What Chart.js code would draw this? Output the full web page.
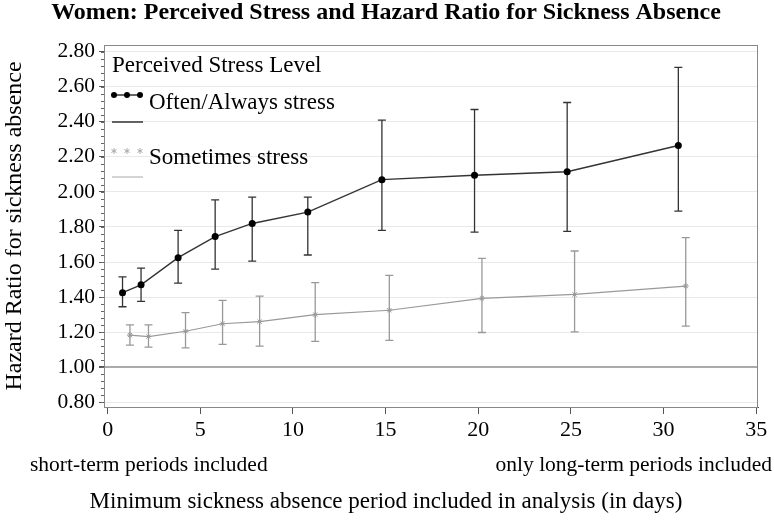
<!DOCTYPE html>
<html>
<head>
<meta charset="utf-8">
<script src="https://cdn.jsdelivr.net/npm/chart.js@4/dist/chart.umd.min.js"></script>
<style>
  html, body { margin: 0; padding: 0; background: #fff; }
  #wrap { width: 774px; height: 523px; }
</style>
</head>
<body>
<div id="wrap"><canvas id="hrChart" width="774" height="523"></canvas></div>
<script>
// values
const xOften = [0.8, 1.8, 3.8, 5.8, 7.8, 10.8, 14.8, 19.8, 24.8, 30.8];
const hrOften = [1.425, 1.47, 1.625, 1.745, 1.82, 1.885, 2.07, 2.095, 2.115, 2.265];
const loOften = [1.345, 1.375, 1.48, 1.56, 1.605, 1.64, 1.78, 1.77, 1.775, 1.89];
const hiOften = [1.515, 1.565, 1.78, 1.955, 1.97, 1.97, 2.41, 2.47, 2.51, 2.71];

const xSome = [1.2, 2.2, 4.2, 6.2, 8.2, 11.2, 15.2, 20.2, 25.2, 31.2];
const hrSome = [1.183, 1.175, 1.205, 1.248, 1.26, 1.3, 1.325, 1.393, 1.415, 1.463];
const loSome = [1.126, 1.114, 1.11, 1.13, 1.12, 1.147, 1.153, 1.198, 1.202, 1.234];
const hiSome = [1.242, 1.242, 1.311, 1.381, 1.406, 1.482, 1.524, 1.621, 1.663, 1.739];

const xTicks = [0, 5, 10, 15, 20, 25, 30, 35];
const yTicks = [0.8, 1.0, 1.2, 1.4, 1.6, 1.8, 2.0, 2.2, 2.4, 2.6, 2.8];

const SERIF = "'Liberation Serif', 'DejaVu Serif', serif";
const DARK = "#333333";
const GREY = "#999999";

function toPoints(xs, ys) {
  return xs.map((x, i) => ({ x: x, y: ys[i] }));
}

// error bars, frame, minor ticks, legend and notes
const extrasPlugin = {
  id: "extras",
  beforeDatasetsDraw(chart) {
    const ctx = chart.ctx;
    const xs = chart.scales.x;
    const ys = chart.scales.y;
    const bars = [
      [xOften, loOften, hiOften, DARK],
      [xSome, loSome, hiSome, GREY],
    ];
    ctx.save();
    ctx.lineWidth = 1.3;
    bars.forEach(([xv, lo, hi, col]) => {
      ctx.strokeStyle = col;
      xv.forEach((x, i) => {
        const px = xs.getPixelForValue(x);
        const p1 = ys.getPixelForValue(lo[i]);
        const p2 = ys.getPixelForValue(hi[i]);
        ctx.beginPath();
        ctx.moveTo(px, p1);
        ctx.lineTo(px, p2);
        ctx.moveTo(px - 4, p1);
        ctx.lineTo(px + 4, p1);
        ctx.moveTo(px - 4, p2);
        ctx.lineTo(px + 4, p2);
        ctx.stroke();
      });
    });
    ctx.restore();
  },
  afterDraw(chart) {
    const ctx = chart.ctx;
    const a = chart.chartArea;
    const ys = chart.scales.y;
    ctx.save();
    // frame
    ctx.strokeStyle = "#888888";
    ctx.lineWidth = 1;
    ctx.strokeRect(a.left + 0.5, a.top + 0.5, a.right - a.left - 1, a.bottom - a.top);
    // minor ticks on y axis
    ctx.strokeStyle = "#666666";
    for (let v = 0.8; v <= 2.8001; v += 0.04) {
      const py = Math.round(ys.getPixelForValue(v)) + 0.5;
      ctx.beginPath();
      ctx.moveTo(a.left - 3, py);
      ctx.lineTo(a.left, py);
      ctx.stroke();
    }
    // title
    ctx.fillStyle = "#000";
    ctx.textAlign = "center";
    ctx.textBaseline = "middle";
    ctx.font = "bold 24px " + SERIF;
    ctx.fillText("Women: Perceived Stress and Hazard Ratio for Sickness Absence", 386, 13);
    // x axis title, centred on the page as in the original
    ctx.font = "23px " + SERIF;
    ctx.fillText("Minimum sickness absence period included in analysis (in days)", 386, 502);
    // notes under the x axis
    ctx.font = "21.5px " + SERIF;
    ctx.textAlign = "left";
    ctx.fillText("short-term periods included", 30, 465);
    ctx.textAlign = "right";
    ctx.fillText("only long-term periods included", 772, 465);
    // legend
    ctx.textAlign = "left";
    ctx.font = "23px " + SERIF;
    ctx.fillText("Perceived Stress Level", 112, 66);
    ctx.fillText("Often/Always stress", 149, 103);
    ctx.fillText("Sometimes stress", 149, 158);
    // often markers
    ctx.strokeStyle = DARK;
    ctx.lineWidth = 1.5;
    ctx.beginPath();
    ctx.moveTo(113, 95);
    ctx.lineTo(142, 95);
    ctx.moveTo(112, 122);
    ctx.lineTo(143, 122);
    ctx.stroke();
    ctx.fillStyle = "#000";
    [114, 127, 140].forEach((x) => {
      ctx.beginPath();
      ctx.arc(x, 95, 3, 0, Math.PI * 2);
      ctx.fill();
    });
    // sometimes markers
    ctx.strokeStyle = "#aaaaaa";
    ctx.lineWidth = 1;
    ctx.beginPath();
    ctx.moveTo(112, 177);
    ctx.lineTo(143, 177);
    ctx.stroke();
    [114, 127, 140].forEach((x) => {
      ctx.beginPath();
      for (let k = 0; k < 3; k++) {
        const ang = (Math.PI / 3) * k + Math.PI / 2;
        ctx.moveTo(x - 3 * Math.cos(ang), 151 - 3 * Math.sin(ang));
        ctx.lineTo(x + 3 * Math.cos(ang), 151 + 3 * Math.sin(ang));
      }
      ctx.stroke();
    });
    ctx.restore();
  },
};

new Chart(document.getElementById("hrChart"), {
  type: "line",
  data: {
    datasets: [
      {
        label: "Often/Always stress",
        data: toPoints(xOften, hrOften),
        borderColor: DARK,
        backgroundColor: "#000",
        borderWidth: 1.4,
        pointRadius: 3.5,
        pointBorderWidth: 0,
        tension: 0,
      },
      {
        label: "Sometimes stress",
        data: toPoints(xSome, hrSome),
        borderColor: GREY,
        backgroundColor: GREY,
        borderWidth: 1.2,
        pointStyle: "star",
        pointRadius: 3,
        pointBorderWidth: 1,
        pointBorderColor: GREY,
        tension: 0,
      },
    ],
  },
  options: {
    responsive: false,
    animation: false,
    layout: {
      padding: { top: 45, right: 16, left: 0, bottom: 0 },
    },
    plugins: {
      legend: { display: false },
      title: { display: false },
      tooltip: { enabled: false },
    },
    scales: {
      x: {
        type: "linear",
        min: -0.2,
        max: 35.1,
        afterBuildTicks: (s) => {
          s.ticks = xTicks.map((v) => ({ value: v }));
        },
        afterFit: (s) => {
          s.height = 116;
        },
        grid: {
          display: true,
          drawOnChartArea: false,
          drawTicks: true,
          tickLength: 7,
          color: "#555555",
        },
        border: { color: "#555555", width: 1 },
        ticks: {
          color: "#000",
          font: { family: SERIF, size: 22 },
          padding: 3,
          maxRotation: 0,
        },
        title: { display: false },
      },
      y: {
        type: "linear",
        min: 0.773,
        max: 2.838,
        afterBuildTicks: (s) => {
          s.ticks = yTicks.map((v) => ({ value: v }));
        },
        afterFit: (s) => {
          s.width = 104;
        },
        grid: {
          color: (c) => (c.tick && Math.abs(c.tick.value - 1) < 1e-6 ? "#aaaaaa" : "#e9e9e9"),
          lineWidth: (c) => (c.tick && Math.abs(c.tick.value - 1) < 1e-6 ? 2 : 1),
          tickColor: "#555555",
          tickLength: 5,
        },
        border: { color: "#555555", width: 1 },
        ticks: {
          color: "#000",
          font: { family: SERIF, size: 21.5 },
          padding: 4,
          callback: (v) => Number(v).toFixed(2),
        },
        title: {
          display: true,
          text: "Hazard Ratio for sickness absence",
          color: "#000",
          font: { family: SERIF, size: 24 },
          padding: { top: 0, bottom: 0 },
        },
      },
    },
  },
  plugins: [extrasPlugin],
});
</script>
</body>
</html>
